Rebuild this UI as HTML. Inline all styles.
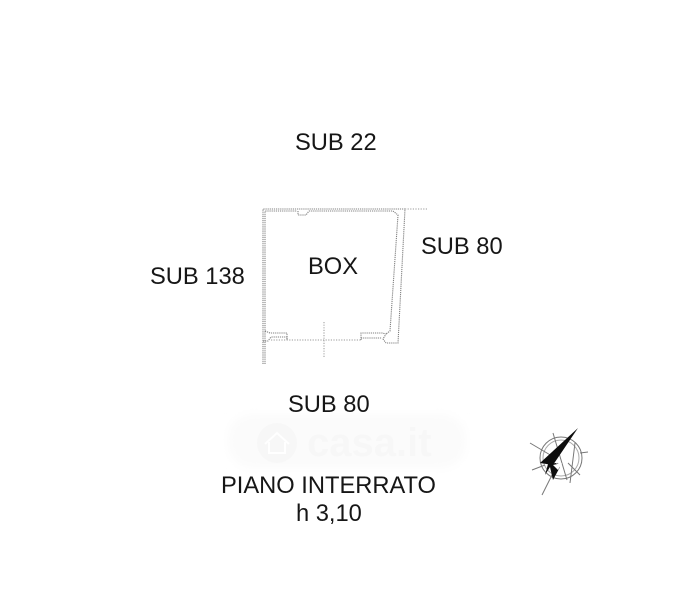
<!DOCTYPE html>
<html>
<head>
<meta charset="utf-8">
<style>
html,body{margin:0;padding:0;background:#fff;width:694px;height:600px;overflow:hidden}
svg{display:block}
text{font-family:"Liberation Sans",sans-serif;fill:#181818;font-size:23.7px}
.w{fill:none;stroke:#808080;stroke-width:1.1;stroke-dasharray:1.2 0.9}
.d{fill:none;stroke:#999;stroke-width:1;stroke-dasharray:1.2 1.4}
</style>
</head>
<body>
<svg width="694" height="600" viewBox="0 0 694 600" xmlns="http://www.w3.org/2000/svg">
<defs>
<filter id="s" x="-5%" y="-5%" width="110%" height="110%"><feGaussianBlur stdDeviation="0.35"/></filter>
<filter id="b" x="-20%" y="-20%" width="140%" height="140%"><feGaussianBlur stdDeviation="5"/></filter>
</defs>
<rect width="694" height="600" fill="#fff"/>
<!-- watermark -->
<g>
<rect x="228" y="414" width="238" height="54" rx="24" fill="#fbfbfb" filter="url(#b)"/>
<circle cx="277" cy="443" r="20" fill="#f7f7f7" filter="url(#s)"/>
<path d="M265 444l12-11 12 11M269 442v11h16v-11" fill="none" stroke="#fff" stroke-width="2"/>
<text x="307" y="456" font-weight="700" style="font-size:40px;fill:#f7f7f7">casa.it</text>
</g>
<g filter="url(#s)">
<!-- plan walls -->
<path class="w" d="M263 364V209H405L398 343H386"/>
<path class="w" d="M265 364V211H297"/>
<path class="d" d="M405 209H428"/>
<path class="w" d="M309 211H393L398 215L390 331L386 334"/>
<path class="w" d="M298 211V215H306L309 211"/>
<path class="w" d="M265 331L270 333H287V340"/>
<path class="w" d="M263 341H268L271 337H287V340"/>
<path class="d" d="M271 340H361"/>
<path class="w" d="M361 340V333H382L386 334L383 339L386 343"/>
<path class="w" d="M361 338H382"/>
<path class="d" d="M324 322V357"/>
<!-- labels -->
<text x="295" y="150">SUB 22</text>
<text x="421" y="254">SUB 80</text>
<text x="150" y="284">SUB 138</text>
<text x="308" y="274">BOX</text>
<text x="288" y="412">SUB 80</text>
<text x="221" y="493">PIANO INTERRATO</text>
<text x="296" y="521">h 3,10</text>
<!-- compass -->
<g fill="none" stroke="#777" stroke-width="1">
<circle cx="561" cy="458" r="21"/>
<circle cx="561" cy="458" r="18" stroke="#aaa"/>
<path d="M530 443L552 456M532 470L545 465M568 463L580 475M580 453L588 452M553 433L567 480M575 443L570 483M558 463L542 495"/>
</g>
<path d="M578 428L540 463L553 465Z" fill="#111"/>
<path d="M545 475L550 467L553 480L560 467L556 463L548 464Z" fill="#111"/>
<path d="M553 465L558 470L562 463Z" fill="#fff"/>
</g>
</svg>
</body>
</html>
